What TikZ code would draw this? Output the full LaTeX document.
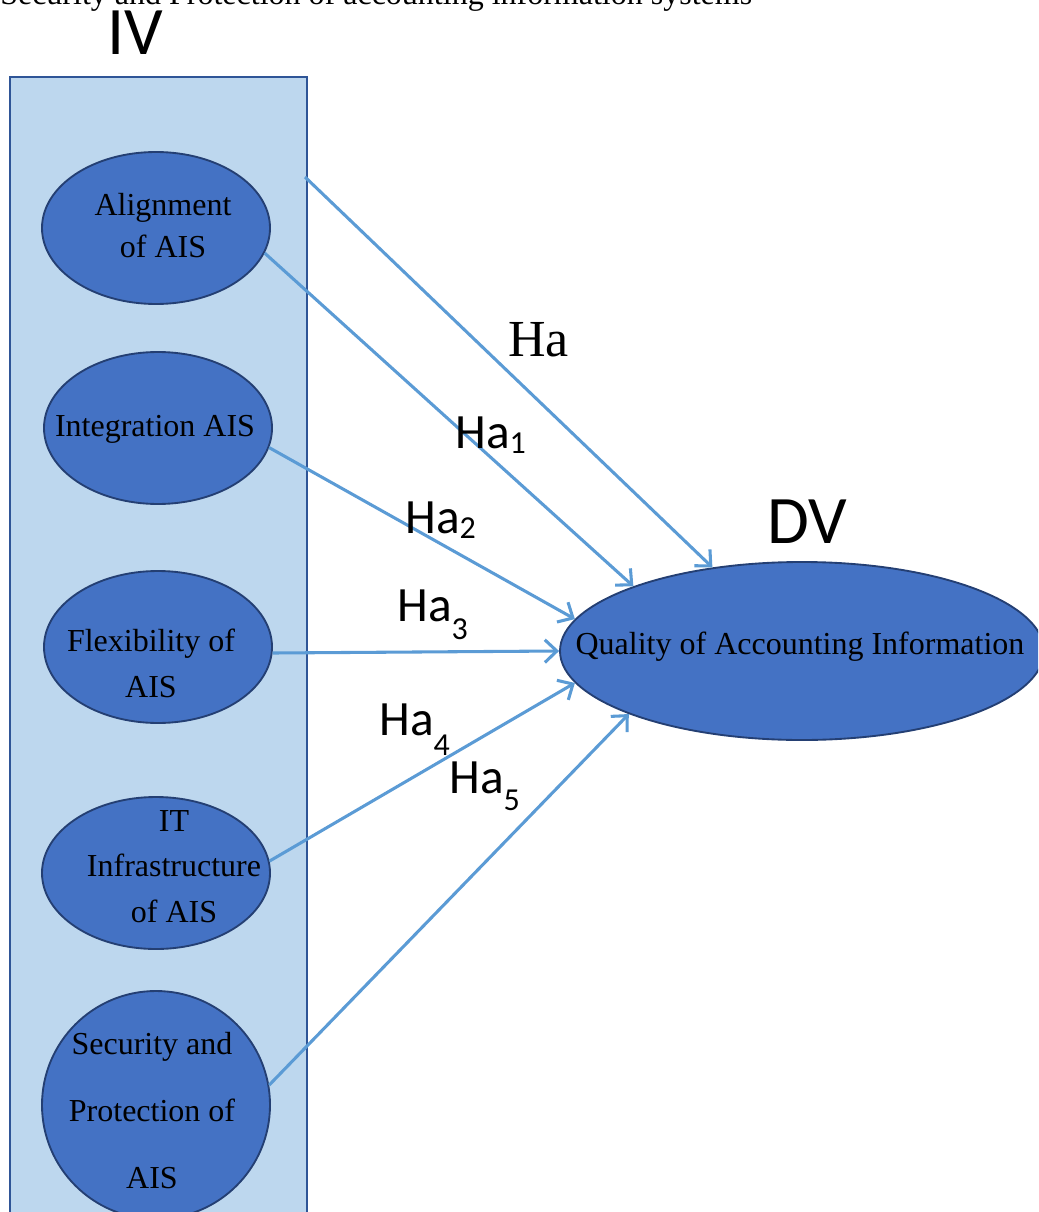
\documentclass[tikz,border=0pt]{standalone}
\usepackage{fontspec}
\setmainfont{Liberation Serif}
\newfontfamily\calibfont{Carlito}
\usetikzlibrary{shapes.geometric,arrows.meta}

\definecolor{panelfill}{HTML}{BDD7EE}
\definecolor{paneledge}{HTML}{2F5597}
\definecolor{varfill}{HTML}{4472C4}
\definecolor{varedge}{HTML}{243F73}
\definecolor{linkblue}{HTML}{5B9BD5}

\tikzset{
  varnode/.style={ellipse, draw=varedge, fill=varfill, line width=1.4pt,
    inner sep=0pt, minimum width=171pt, minimum height=114pt},
  vartext/.style={anchor=base, align=center, inner sep=0pt,
    font=\fontsize{24}{#1}\selectfont},
  hyparrow/.style={draw=linkblue, line width=2.3pt,
    -{Straight Barb[length=9pt,width=17pt]}},
  hyplabel/.style={anchor=base west, inner sep=0pt,
    font=\calibfont\fontsize{37}{37}\selectfont},
  varlabel/.style={anchor=base west, inner sep=0pt,
    font=\calibfont\fontsize{51}{51}\selectfont},
}

\newcommand{\hypsub}[2]{\raisebox{#1}{\fontsize{24}{24}\selectfont #2}}

\begin{document}
\begin{tikzpicture}[x=0.75pt, y=-0.75pt]
    \useasboundingbox (0,0) rectangle (1038,1212);
    \clip (0,0) rectangle (1038,1212);

    % caption line, cut by the top edge
    \node[anchor=base west, inner sep=0pt, font=\fontsize{24}{24}\selectfont]
        (caption) at (0,5) {Security and Protection of accounting information systems};

    % IV panel
    \fill[panelfill] (10,77) rectangle (307,1240);
    \draw[paneledge, line width=1.6pt] (10,1240) -- (10,77) -- (307,77) -- (307,1240);
    \node[varlabel] (iv) at (107,55) {IV};
    \node[varlabel] (dv) at (767,543) {DV};

    % independent variables
    \node[varnode] (align) at (156,228) {};
    \node[varnode] (integ) at (158,428) {};
    \node[varnode] (flex)  at (158,647) {};
    \node[varnode] (infra) at (156,873) {};
    \node[varnode, minimum width=171pt, minimum height=171pt] (secur) at (156,1105) {};

    % base of a multi-line text = its last line
    \node[vartext=32] (aligntext) at (163,258) {Alignment\\of AIS};
    \node[vartext=32] (integtext) at (155,436) {Integration AIS};
    \node[vartext=34] (flextext)  at (151,697) {Flexibility of\\AIS};
    \node[vartext=34] (infratext) at (174,922) {IT\\Infrastructure\\of AIS};
    \node[vartext=50] (securtext) at (152,1188) {Security and\\Protection of\\AIS};

    % dependent variable
    \node[varnode, minimum width=363pt, minimum height=133.5pt] (qual) at (802,651) {};
    \node[vartext=32] (qualtext) at (800,654) {Quality of Accounting Information};

    % hypotheses
    \coordinate (hafrom) at (305,177);
    \draw[hyparrow] (hafrom) -- (qual.137);
    \draw[hyparrow] (align.-13) -- (qual.159);
    \draw[hyparrow] (integ.-10) -- (qual.172);
    \draw[hyparrow] (flex.-3) -- (qual.180);
    \draw[hyparrow] (infra.6) -- (qual.188);
    \draw[hyparrow] (secur.10) -- (qual.200);

    \node[anchor=base west, inner sep=0pt, font=\fontsize{39}{39}\selectfont]
        (ha) at (508,356) {Ha};
    \node[hyplabel] (ha1) at (455,448) {Ha\hypsub{-4pt}{1}};
    \node[hyplabel] (ha2) at (405,533) {Ha\hypsub{-4pt}{2}};
    \node[hyplabel] (ha3) at (397,621) {Ha\hypsub{-14pt}{3}};
    \node[hyplabel] (ha4) at (379,735) {Ha\hypsub{-15pt}{4}};
    \node[hyplabel] (ha5) at (449,793) {Ha\hypsub{-13pt}{5}};
\end{tikzpicture}
\end{document}
